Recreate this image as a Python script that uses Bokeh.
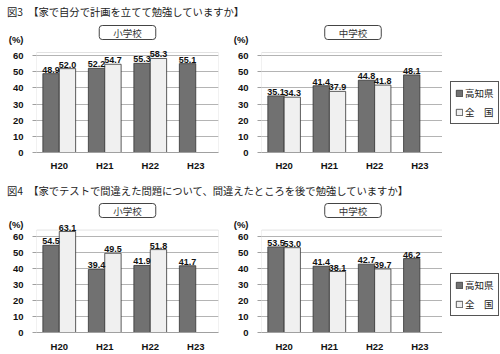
from bokeh.plotting import figure
from bokeh.models import (ColumnDataSource, LabelSet, Label, Legend, LegendItem,
                          Div, FactorRange, Range1d, FixedTicker, BoxAnnotation)
from bokeh.layouts import column, row
from bokeh.transform import dodge
from bokeh.core.properties import value
from bokeh.embed import file_html
from bokeh.resources import INLINE

# ---------------- data ----------------
years = ["H20", "H21", "H22", "H23"]
series_names = ["高知県", "全　国"]

fig3_title = "図3　【家で自分で計画を立てて勉強していますか】"
fig4_title = "図4　【家でテストで間違えた問題について、間違えたところを後で勉強していますか】"

fig3_elem_kochi = [48.9, 52.2, 55.3, 55.1]
fig3_elem_national = [52.0, 54.7, 58.3, None]
fig3_jh_kochi = [35.1, 41.4, 44.8, 48.1]
fig3_jh_national = [34.3, 37.9, 41.8, None]

fig4_elem_kochi = [54.5, 39.4, 41.9, 41.7]
fig4_elem_national = [63.1, 49.5, 51.8, None]
fig4_jh_kochi = [53.5, 41.4, 42.7, 46.2]
fig4_jh_national = [53.0, 38.1, 39.7, None]

y_ticks = [0, 10, 20, 30, 40, 50, 60]
unit_label = "(%)"

# ---------------- style ----------------
CJK = "Noto Sans CJK JP"
NUM = "Liberation Sans"
DARK = "#717171"
LIGHT = "#f0f0f0"
EDGE = "#333333"
GRID = "#b4b4b4"
FRAME = "#a0a0a0"
BW = 0.36
OFF = 0.18


def make_src(vals):
    ys = [y for y, v in zip(years, vals) if v is not None]
    vs = [v for v in vals if v is not None]
    return ColumnDataSource(dict(year=ys, val=vs, lbl=[f"{v:.1f}" for v in vs]))


def panel(kochi, national, school, width, height, bl, br, chart_top_px, bb,
          chart_max, pct_px, xstand, school_px):
    fw = width - bl - br
    fh = height - bb
    chart_px = height - chart_top_px - bb
    ymax = chart_max * fh / chart_px
    pxu = chart_px / chart_max
    p = figure(x_range=FactorRange(*years), y_range=Range1d(0, ymax),
               width=width, height=height, output_backend="svg",
               toolbar_location=None, min_border_left=bl, min_border_right=br,
               min_border_top=0, min_border_bottom=bb)
    p.outline_line_color = None
    p.background_fill_color = "white"
    p.border_fill_color = "white"
    p.xgrid.grid_line_color = None
    p.ygrid.grid_line_color = GRID
    p.ygrid.ticker = FixedTicker(ticks=y_ticks)

    pct_pos = chart_max + pct_px / pxu
    p.yaxis.ticker = FixedTicker(ticks=y_ticks + [pct_pos], minor_ticks=y_ticks)
    p.yaxis.major_label_overrides = {pct_pos: unit_label}
    for ax in (p.xaxis[0], p.yaxis[0]):
        ax.major_label_text_font = NUM
        ax.major_label_text_font_style = "bold"
        ax.major_label_text_font_size = "9.5px"
        ax.major_label_text_color = "#111111"
    p.yaxis.axis_line_color = None
    p.yaxis.major_tick_line_color = None
    p.yaxis.major_tick_out = 0
    p.yaxis.major_tick_in = 0
    p.yaxis.minor_tick_line_color = FRAME
    p.yaxis.minor_tick_out = 4
    p.yaxis.minor_tick_in = 0
    p.yaxis.major_label_standoff = 9
    p.xaxis.axis_line_color = FRAME
    p.xaxis.major_tick_line_color = None
    p.xaxis.minor_tick_line_color = None
    p.xaxis.major_tick_out = 0
    p.xaxis.major_tick_in = 0
    p.xaxis.major_label_standoff = xstand

    # chart border box (plot area)
    p.add_layout(BoxAnnotation(bottom=0, top=chart_max, fill_color=None,
                               line_color=FRAME, line_width=1))

    s1 = make_src(kochi)
    s2 = make_src(national)
    p.vbar(x=dodge("year", -OFF, range=p.x_range), top="val", width=BW,
           source=s1, fill_color=DARK, line_color=EDGE, line_width=0.8)
    p.vbar(x=dodge("year", OFF, range=p.x_range), top="val", width=BW,
           source=s2, fill_color=LIGHT, line_color=EDGE, line_width=0.8)

    for s, o in ((s1, -OFF), (s2, OFF)):
        p.add_layout(LabelSet(x=dodge("year", o, range=p.x_range), y="val", text="lbl",
                              source=s, text_align="center", text_baseline="bottom",
                              y_offset=1, text_font=value(NUM), text_font_style="bold",
                              text_font_size="9px", text_color="#111111"))

    p.add_layout(Label(x=fw / 2, y=chart_px + school_px, x_units="screen", y_units="screen",
                       text=school, text_align="center", text_baseline="middle",
                       text_font=CJK, text_font_size="9.5px", text_color="#333333",
                       border_line_color="#444444", border_line_width=1,
                       background_fill_color="white",
                       padding=dict(left=14, right=14, top=0, bottom=0), border_radius=3))
    return p


def legend_panel(width, height, bottom, kochi, national):
    p = figure(width=width, height=height, x_range=FactorRange(*years),
               y_range=Range1d(0, 1), x_axis_type=None, y_axis_type=None,
               output_backend="svg", toolbar_location=None, min_border=0)
    p.outline_line_color = None
    # hidden copies of the two series, used only for the legend swatches
    r1 = p.vbar(x="year", top="val", width=BW, source=make_src(kochi),
                fill_color=DARK, line_color=EDGE, line_width=0.8, visible=False)
    r2 = p.vbar(x="year", top="val", width=BW, source=make_src(national),
                fill_color=LIGHT, line_color=EDGE, line_width=0.8, visible=False)
    lg = Legend(items=[LegendItem(label=series_names[0], renderers=[r1]),
                       LegendItem(label=series_names[1], renderers=[r2])],
                location=(8, bottom), orientation="vertical")
    lg.label_text_font = CJK
    lg.label_text_font_size = "9.5px"
    lg.label_text_color = "#222222"
    lg.glyph_width = 8
    lg.glyph_height = 8
    lg.label_height = 12
    lg.label_standoff = 2
    lg.spacing = 5
    lg.padding = 4
    lg.margin = 0
    lg.inactive_fill_alpha = 0
    lg.border_line_color = "#555555"
    lg.border_line_alpha = 1
    lg.border_line_width = 1
    lg.background_fill_color = "white"
    lg.click_policy = "none"
    p.add_layout(lg)
    return p


def title_div(t, h):
    return Div(text=t, width=500, height=h, margin=0,
               styles={"font-family": CJK, "font-size": "10.3px", "line-height": f"{h}px",
                       "padding-left": "7px", "color": "#222222", "white-space": "nowrap"})


f1 = panel(fig3_elem_kochi, fig3_elem_national, "小学校", 230, 156, 36, 12, 28, 28, 62, 13, 7, 20)
f2 = panel(fig3_jh_kochi, fig3_jh_national, "中学校", 212, 156, 29, 0, 28, 28, 62, 13, 7, 20)
l1 = legend_panel(58, 156, 28, fig3_jh_kochi, fig3_jh_national)
f3 = panel(fig4_elem_kochi, fig4_elem_national, "小学校", 230, 152, 36, 12, 28, 20, 64, 6, 8, 18)
f4 = panel(fig4_jh_kochi, fig4_jh_national, "中学校", 212, 152, 29, 0, 28, 20, 64, 6, 8, 18)
l2 = legend_panel(58, 152, 16, fig4_jh_kochi, fig4_jh_national)

layout = column(title_div(fig3_title, 24), row(f1, f2, l1),
                title_div(fig4_title, 22), row(f3, f4, l2))

open("out.html", "w").write(file_html(layout, INLINE))
